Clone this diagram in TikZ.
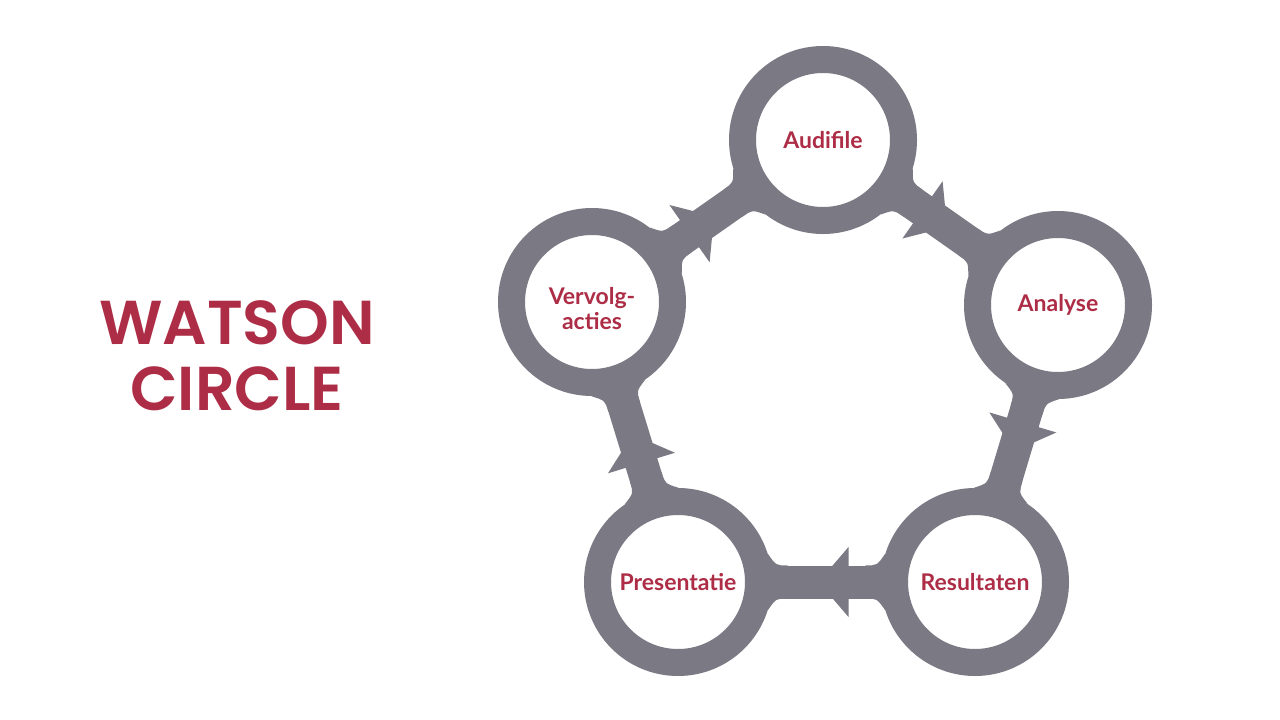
\documentclass[tikz,border=0pt]{standalone}
\usepackage{fontspec}
\setmainfont{Lato}
\newfontfamily\titlefont{Poppins SemiBold}
\usetikzlibrary{positioning, calc, backgrounds}
\definecolor{cRing}{RGB}{123,121,132}
\definecolor{cRed}{RGB}{173,45,70}
\tikzset{
	ringtext/.style={align=center, text=cRed, font=\bfseries\fontsize{23}{25}\selectfont},
	ring/.style ={circle, draw=cRing, line width=27pt, fill=white, minimum size=161pt, inner sep=0pt, ringtext},
	bar/.style  ={draw=cRing, line width=33pt},
	title/.style={text=cRed, align=center, font=\titlefont\fontsize{62}{66}\selectfont},
}
% flat arrowhead halfway along a link
\newcommand{\linkhead}[2]{%
	\coordinate (tip) at ($(#1)!0.5!(#2)!8pt!(#2)$);
	\coordinate (base) at ($(#1)!0.5!(#2)!-22pt!(#2)$);
	\fill[cRing] (tip) -- ($(base)!35pt!90:(tip)$) -- ($(base)!35pt!-90:(tip)$) -- cycle;}
% rounded widening where a link meets a ring
\newcommand{\fillet}[2]{%
	\coordinate (fa) at ($(#1)!110pt!(#2)$);
	\coordinate (fb) at ($(#1)!98pt!(#2)$);
	\coordinate (fc) at ($(#1)!90pt!(#2)$);
	\fill[cRing] ($(fa)!16.5pt!90:(#2)$) .. controls ($(fb)!16.5pt!90:(#2)$) .. ($(fc)!28pt!90:(#2)$)
		-- ($(fc)!28pt!-90:(#2)$) .. controls ($(fb)!16.5pt!-90:(#2)$) .. ($(fa)!16.5pt!-90:(#2)$) -- cycle;}

\begin{document}
\begin{tikzpicture}[x=1pt, y=-1pt]
	\useasboundingbox (0,0) rectangle (1280,720);
	\node[title] (watson) at (237,356) {WATSON\\CIRCLE};

	\node[ring] (audi) at (823,140) {Audifile};
	\node[ring] (anal) at (1058,305) {Analyse};
	\node[ring] (res)  at (975,582) {Resultaten};
	\node[ring] (pres) at (678,582) {Presentatie};
	\node[ring, label={[ringtext, yshift=-7pt]center:{Vervolg-\\acties}}] (verv) at (592,302) {};

	\begin{scope}[on background layer]
		\draw[bar] (audi.center) -- (anal.center);
		\draw[bar] (anal.center) -- (res.center);
		\draw[bar] (res.center) -- (pres.center);
		\draw[bar] (pres.center) -- (verv.center);
		\draw[bar] (verv.center) -- (audi.center);
		\foreach \a/\b in {audi/anal, anal/res, res/pres, pres/verv, verv/audi}{
			\linkhead{\a}{\b}
			\fillet{\a}{\b}
			\fillet{\b}{\a}
		}
	\end{scope}
\end{tikzpicture}
\end{document}
